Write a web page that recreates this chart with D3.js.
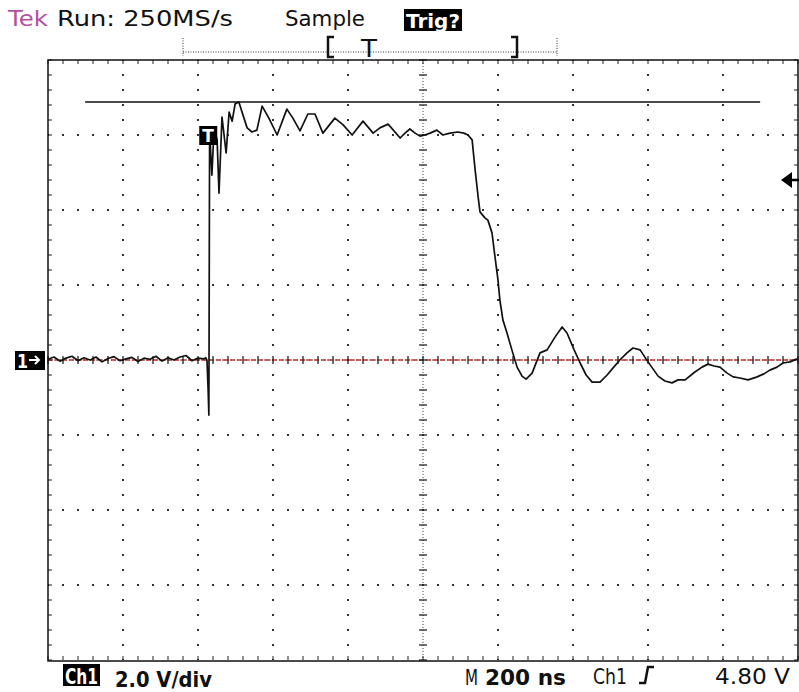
<!DOCTYPE html>
<html>
<head>
<meta charset="utf-8">
<script src="https://cdn.jsdelivr.net/npm/d3@7"></script>
<style>
  html, body { margin: 0; padding: 0; background: #fff; }
  svg { display: block; }
  text { font-family: 'DejaVu Sans', 'Liberation Sans', sans-serif; }
</style>
</head>
<body>
<div id="root"></div>
<script>
'use strict';

// time axis: 10 div x 200 ns, volts: 8 div x 2.0 V
const timeNs = [
  0, 16, 32, 48, 64, 80, 96, 112, 128, 144, 160, 176, 192, 208, 224, 240, 256, 272,
  288, 304, 320, 336, 352, 368, 384, 400, 416, 421, 424, 427, 429, 431, 437, 443,
  451, 456, 464, 475, 483, 491, 499, 509, 520, 531, 544, 557, 571, 589, 611, 637,
  653, 672, 693, 712, 733, 765, 787, 811, 840, 867, 885, 907, 939, 952, 965, 979,
  992, 1005, 1019, 1037, 1053, 1072, 1093, 1109, 1120, 1131, 1139, 1147, 1152,
  1165, 1173, 1184, 1192, 1200, 1205, 1213, 1224, 1237, 1251, 1264, 1275, 1291,
  1312, 1331, 1352, 1371, 1384, 1403, 1419, 1435, 1451, 1472, 1491, 1507, 1525,
  1544, 1560, 1579, 1600, 1627, 1645, 1664, 1680, 1699, 1725, 1744, 1760, 1776,
  1792, 1811, 1827, 1845, 1867, 1891, 1909, 1925, 1944, 1960, 1979, 1997
];

const volts = [
  0.02, 0.08, -0.03, 0.05, 0.10, -0.02, 0.06, 0.00, 0.08, -0.05, 0.04, 0.09, -0.02,
  0.03, 0.07, -0.04, 0.05, 0.02, 0.10, -0.03, 0.06, 0.00, 0.08, 0.12, -0.02, 0.05,
  0.03, 0.06, -0.03, -0.80, -1.47, 6.13, 4.93, 6.19, 5.87, 4.45, 6.48, 5.52, 6.61,
  6.37, 6.83, 6.88, 6.53, 6.19, 6.08, 6.13, 6.77, 6.45, 6.00, 6.69, 6.45, 6.11,
  6.56, 6.56, 6.05, 6.45, 6.27, 6.00, 6.37, 6.05, 6.19, 6.29, 5.92, 6.05, 6.16,
  6.05, 5.97, 6.00, 6.05, 6.13, 6.00, 6.05, 6.08, 6.05, 6.00, 5.87, 5.07, 4.35,
  3.95, 3.79, 3.73, 3.39, 2.75, 2.13, 1.60, 1.07, 0.72, 0.27, -0.19, -0.43, -0.51,
  -0.35, 0.19, 0.27, 0.61, 0.88, 0.72, 0.27, -0.08, -0.40, -0.59, -0.59, -0.40,
  -0.21, 0.00, 0.19, 0.32, 0.27, -0.05, -0.43, -0.56, -0.61, -0.53, -0.53, -0.32,
  -0.19, -0.11, -0.16, -0.19, -0.35, -0.45, -0.48, -0.53, -0.45, -0.37, -0.27,
  -0.19, -0.08, -0.05, 0.03
];

const refLevel   = 6.88,          // horizontal cursor
      refSpan    = [99, 1899],
      trigLevel  = 4.80,
      trigTime   = 430,
      timeDomain = [0, 2000],
      voltDomain = [-8, 8];

const headerLabels = ['Tek', 'Run: 250MS/s', 'Sample', 'Trig?'],
      footerLabels = ['Ch1', '2.0 V/div', 'M', '200 ns', 'Ch1', '4.80 V'];

const Root = document.querySelector('#root');

function label(svg, txt, xPos, yPos, size, len, opts) {
  const o = opts || {},
        t = svg.append('text')
               .attr('x', xPos)
               .attr('y', yPos)
               .attr('font-size', size)
               .attr('fill', o.fill || '#111')
               .attr('font-weight', o.bold ? 'bold' : 'normal')
               .text(txt);
  if (o.family) t.attr('font-family', o.family);
  if (len) t.attr('textLength', len).attr('lengthAdjust', 'spacingAndGlyphs');
  return t;
}

function draw() {
  const w = 799,
        h = 692,
        svg = d3.select(Root)
                .append('svg')
                .attr('width', w)
                .attr('height', h),

        x = d3.scaleLinear().domain(timeDomain).range([48, 798]),
        y = d3.scaleLinear().domain(voltDomain).range([660, 60]),

        majorT = d3.range(timeDomain[0], timeDomain[1] + 1, 200),
        minorT = d3.range(timeDomain[0], timeDomain[1] + 1, 40),
        majorV = d3.range(voltDomain[0], voltDomain[1] + 0.01, 2),
        minorV = d3.range(voltDomain[0], voltDomain[1] + 0.01, 0.4);

  const grid = svg.append('g');

  // dotted division lines
  grid.selectAll('line.vdiv')
      .data(majorT.filter((t) => t !== 0 && t !== 1000 && t !== 2000))
      .enter()
      .append('line')
      .attr('x1', (t) => x(t)).attr('x2', (t) => x(t))
      .attr('y1', y(8)).attr('y2', y(-8))
      .attr('stroke', '#333')
      .attr('stroke-width', 2)
      .attr('stroke-dasharray', '2,13')
      .attr('stroke-dashoffset', 1);

  grid.selectAll('line.hdiv')
      .data(majorV.filter((v) => Math.abs(v) !== 8 && v !== 0))
      .enter()
      .append('line')
      .attr('y1', (v) => y(v)).attr('y2', (v) => y(v))
      .attr('x1', x(0)).attr('x2', x(2000))
      .attr('stroke', '#333')
      .attr('stroke-width', 2)
      .attr('stroke-dasharray', '2,13')
      .attr('stroke-dashoffset', 1);

  // centre axes, fine dots
  grid.append('line')
      .attr('x1', x(1000)).attr('x2', x(1000))
      .attr('y1', y(8)).attr('y2', y(-8))
      .attr('stroke', '#444')
      .attr('stroke-dasharray', '1,2');

  grid.append('line')
      .attr('x1', x(0)).attr('x2', x(2000))
      .attr('y1', y(0)).attr('y2', y(0))
      .attr('stroke', '#444')
      .attr('stroke-dasharray', '1,2');

  // ground reference (red)
  grid.append('line')
      .attr('x1', x(0)).attr('x2', x(2000))
      .attr('y1', y(0)).attr('y2', y(0))
      .attr('stroke', '#c8302c')
      .attr('stroke-width', 1.6)
      .attr('stroke-dasharray', '5,2');

  // minor ticks on centre axes
  grid.selectAll('line.cx')
      .data(minorT)
      .enter()
      .append('line')
      .attr('x1', (t) => x(t)).attr('x2', (t) => x(t))
      .attr('y1', y(0) - 4).attr('y2', y(0) + 4)
      .attr('stroke', '#222')
      .attr('stroke-width', 1.3);

  grid.selectAll('line.cy')
      .data(minorV)
      .enter()
      .append('line')
      .attr('y1', (v) => y(v)).attr('y2', (v) => y(v))
      .attr('x1', x(1000) - 4).attr('x2', x(1000) + 4)
      .attr('stroke', '#222')
      .attr('stroke-width', 1.3);

  // ticks on the frame
  grid.selectAll('line.tt')
      .data(minorT)
      .enter()
      .append('line')
      .attr('x1', (t) => x(t)).attr('x2', (t) => x(t))
      .attr('y1', y(8)).attr('y2', y(8) + 4)
      .attr('stroke', '#222');

  grid.selectAll('line.tb')
      .data(minorT)
      .enter()
      .append('line')
      .attr('x1', (t) => x(t)).attr('x2', (t) => x(t))
      .attr('y1', y(-8)).attr('y2', y(-8) - 4)
      .attr('stroke', '#222');

  grid.selectAll('line.tl')
      .data(minorV)
      .enter()
      .append('line')
      .attr('y1', (v) => y(v)).attr('y2', (v) => y(v))
      .attr('x1', x(0)).attr('x2', x(0) + 4)
      .attr('stroke', '#222');

  grid.selectAll('line.tr')
      .data(minorV)
      .enter()
      .append('line')
      .attr('y1', (v) => y(v)).attr('y2', (v) => y(v))
      .attr('x1', x(2000)).attr('x2', x(2000) - 4)
      .attr('stroke', '#222');

  grid.append('rect')
      .attr('x', x(0))
      .attr('y', y(8))
      .attr('width', x(2000) - x(0))
      .attr('height', y(-8) - y(8) + 1)
      .attr('fill', 'none')
      .attr('stroke', '#111')
      .attr('stroke-width', 1.5);

  // cursor line
  svg.append('line')
     .attr('x1', x(refSpan[0])).attr('x2', x(refSpan[1]))
     .attr('y1', y(refLevel)).attr('y2', y(refLevel))
     .attr('stroke', '#111')
     .attr('stroke-width', 1.5);

  // trace
  const line = d3.line()
                 .x((d, i) => x(timeNs[i]))
                 .y((d) => y(d));

  svg.append('path')
     .datum(volts)
     .attr('d', line)
     .attr('fill', 'none')
     .attr('stroke', '#111')
     .attr('stroke-width', 1.7)
     .attr('stroke-linejoin', 'round');

  // trigger point marker on trace
  const tx = x(trigTime);
  svg.append('rect')
     .attr('x', tx - 10).attr('y', 126)
     .attr('width', 18).attr('height', 19)
     .attr('fill', '#000');
  label(svg, 'T', tx - 7, 142, 17, 0, {fill: '#fff', bold: true});

  // channel 1 ground marker
  svg.append('rect')
     .attr('x', 15).attr('y', y(0) - 9)
     .attr('width', 30).attr('height', 19)
     .attr('fill', '#000');
  label(svg, '1', 17, y(0) + 8, 20, 11, {fill: '#fff', bold: true});
  svg.append('path')
     .attr('d', 'M29,' + y(0) + 'h10m-4,-4l4,4l-4,4')
     .attr('fill', 'none')
     .attr('stroke', '#fff')
     .attr('stroke-width', 2);

  // trigger level arrow
  const ty = y(trigLevel);
  svg.append('path')
     .attr('d', 'M781,' + ty + 'l11,-8v16z')
     .attr('fill', '#000');
  svg.append('line')
     .attr('x1', 788).attr('x2', 799)
     .attr('y1', ty).attr('y2', ty)
     .attr('stroke', '#000')
     .attr('stroke-width', 2.5);

  // header
  label(svg, headerLabels[0], 8, 26, 21, 40, {fill: '#b4519f'});
  label(svg, headerLabels[1], 57, 26, 21, 176);
  label(svg, headerLabels[2], 285, 26, 21, 80);
  svg.append('rect')
     .attr('x', 404).attr('y', 9)
     .attr('width', 58).attr('height', 22)
     .attr('fill', '#000');
  label(svg, headerLabels[3], 406, 28, 20, 54, {fill: '#fff', bold: true});

  // record length ruler
  const ruler = svg.append('g').attr('stroke', '#333');
  ruler.append('line')
       .attr('x1', 183).attr('x2', 557)
       .attr('y1', 52).attr('y2', 52)
       .attr('stroke-dasharray', '1,1.5');
  ruler.selectAll('line.end')
       .data([183, 557])
       .enter()
       .append('line')
       .attr('x1', (d) => d).attr('x2', (d) => d)
       .attr('y1', 38).attr('y2', 56)
       .attr('stroke-dasharray', '1,1.5');
  ruler.append('path')
       .attr('d', 'M334,37H328V57H334 M511,37H517V57H511')
       .attr('fill', 'none')
       .attr('stroke', '#111')
       .attr('stroke-width', 2.5);
  label(svg, 'T', 361, 57, 25, 16);

  // footer
  const narrow = "'DejaVu Sans Condensed', 'Liberation Sans Narrow', sans-serif";
  svg.append('rect')
     .attr('x', 63).attr('y', 664)
     .attr('width', 37).attr('height', 22)
     .attr('fill', '#000');
  label(svg, footerLabels[0], 65, 684, 22, 33, {fill: '#fff', bold: true, family: narrow});
  label(svg, footerLabels[1], 115, 687, 22, 97, {bold: true, family: narrow});
  label(svg, footerLabels[2], 465, 685, 22, 13, {family: narrow});
  label(svg, footerLabels[3], 485, 685, 22, 81, {bold: true, family: narrow});
  label(svg, footerLabels[4], 593, 684, 22, 34, {family: narrow});
  svg.append('path')
     .attr('d', 'M639,683H645L648,667H654')
     .attr('fill', 'none')
     .attr('stroke', '#111')
     .attr('stroke-width', 2.5);
  label(svg, footerLabels[5], 715, 684, 22, 75, {family: narrow});
}

draw();
</script>
</body>
</html>
